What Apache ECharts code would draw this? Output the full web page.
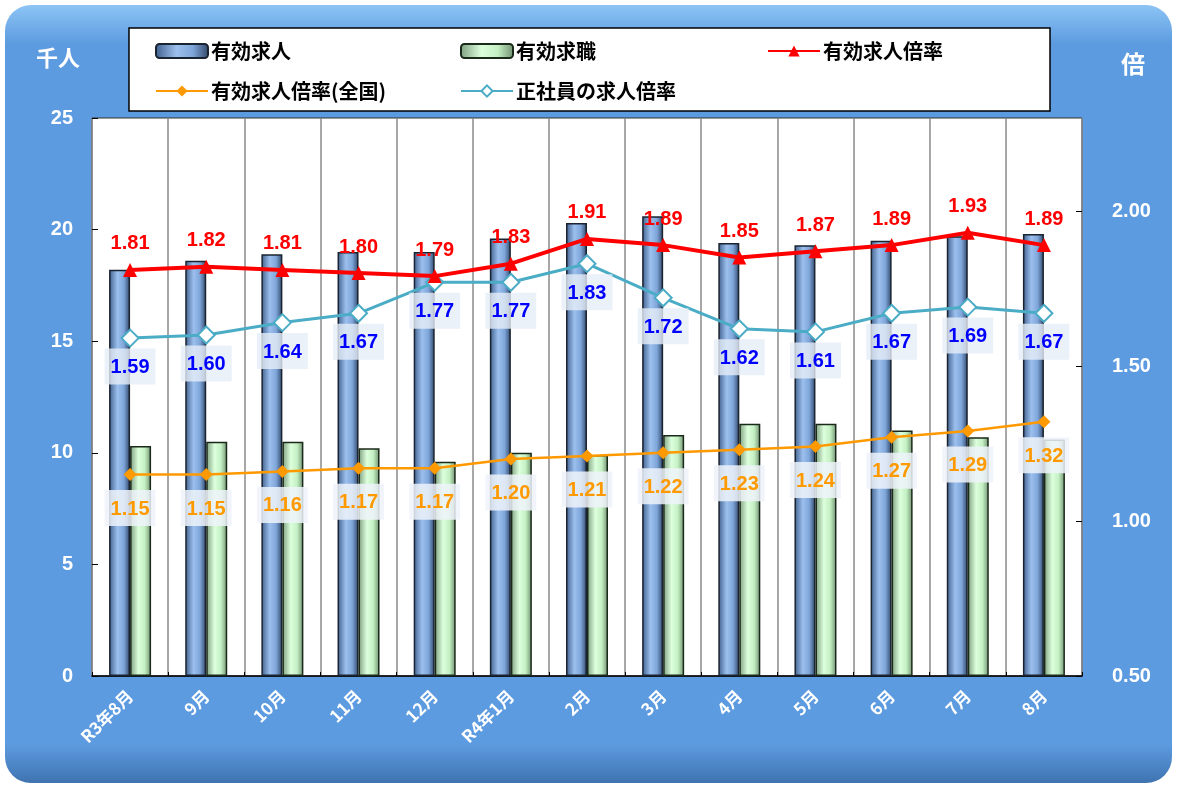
<!DOCTYPE html>
<html>
<head>
<meta charset="utf-8">
<script src="https://cdn.jsdelivr.net/npm/echarts@6/dist/echarts.min.js"></script>
<style>
  html, body { margin: 0; padding: 0; background: #fff; }
  #main { width: 1178px; height: 787px; }
</style>
</head>
<body>
<div id="main"></div>
<script>
// 月
var months = ['R3年8月', '9月', '10月', '11月', '12月', 'R4年1月', '2月', '3月', '4月', '5月', '6月', '7月', '8月'];
// 有効求人（千人）
var kyujin = [18.2, 18.6, 18.9, 19.0, 19.0, 19.6, 20.3, 20.6, 19.4, 19.3, 19.5, 19.7, 19.8];
// 有効求職（千人）
var kyushoku = [10.3, 10.5, 10.5, 10.2, 9.6, 10.0, 9.9, 10.8, 11.3, 11.3, 11.0, 10.7, 10.6];
// 有効求人倍率
var bairitsu = [1.81, 1.82, 1.81, 1.80, 1.79, 1.83, 1.91, 1.89, 1.85, 1.87, 1.89, 1.93, 1.89];
// 有効求人倍率（全国）
var zenkoku = [1.15, 1.15, 1.16, 1.17, 1.17, 1.20, 1.21, 1.22, 1.23, 1.24, 1.27, 1.29, 1.32];
// 正社員の求人倍率
var seishain = [1.59, 1.60, 1.64, 1.67, 1.77, 1.77, 1.83, 1.72, 1.62, 1.61, 1.67, 1.69, 1.67];

var FONT = "'Liberation Sans', 'Noto Sans CJK JP', sans-serif";
var JFONT = "'Noto Sans CJK JP', sans-serif";

var chartDom = document.getElementById('main');
var myChart = echarts.init(chartDom);

var blueGrad = new echarts.graphic.LinearGradient(0, 0, 1, 0, [
  {offset: 0, color: '#3f5f8c'},
  {offset: 0.4, color: '#9cc0ee'},
  {offset: 0.7, color: '#7fa6da'},
  {offset: 1, color: '#2f4668'}
]);
var greenGrad = new echarts.graphic.LinearGradient(0, 0, 1, 0, [
  {offset: 0, color: '#7f9f7f'},
  {offset: 0.4, color: '#dcffdc'},
  {offset: 0.7, color: '#c4f0c4'},
  {offset: 1, color: '#6f8f6f'}
]);

function legendAt(name, left, top) {
  return {
    data: [name],
    left: left,
    top: top,
    itemWidth: 52,
    itemHeight: 14,
    itemGap: 4,
    selectedMode: false,
    textStyle: {fontSize: 20, fontWeight: 'bold', color: '#000', fontFamily: JFONT, padding: [0, 0, 0, -2]}
  };
}

function fmt(p) { return p.value.toFixed(2); }

var option = {
  backgroundColor: '#fff',
  animation: false,
  graphic: [
    {
      type: 'rect',
      z: -5,
      shape: {x: 5, y: 5, width: 1167, height: 778, r: 26},
      style: {
        fill: new echarts.graphic.LinearGradient(0, 0, 0, 1, [
          {offset: 0, color: '#8cc4f4'},
          {offset: 0.05, color: '#5d9be0'},
          {offset: 0.95, color: '#5d9be0'},
          {offset: 1, color: '#3f73b0'}
        ])
      }
    },
    {
      type: 'rect',
      z: 1,
      shape: {x: 129, y: 28, width: 921, height: 83},
      style: {fill: '#fff', stroke: '#000', lineWidth: 1.5}
    },
    {
      type: 'text', z: 5, left: 36, top: 47,
      style: {text: '千人', fill: '#fff', font: 'bold 22px ' + JFONT}
    },
    {
      type: 'text', z: 5, left: 1121, top: 52,
      style: {text: '倍', fill: '#fff', font: 'bold 24px ' + JFONT}
    }
  ],
  legend: [
    legendAt('有効求人', 150, 36),
    legendAt('有効求職', 455, 36),
    legendAt('有効求人倍率', 762, 36),
    legendAt('有効求人倍率(全国)', 150, 76),
    legendAt('正社員の求人倍率', 455, 76)
  ],
  grid: {
    left: 92, right: 96, top: 118, bottom: 111,
    show: true, backgroundColor: '#fff', borderColor: '#333', borderWidth: 1
  },
  xAxis: {
    type: 'category',
    data: months,
    axisLine: {lineStyle: {color: '#000', width: 1.5}},
    axisTick: {show: true, inside: true, length: 4, lineStyle: {color: '#000'}},
    splitLine: {show: true, lineStyle: {color: '#8a8a8a', width: 1.5}},
    axisLabel: {rotate: 45, color: '#fff', fontSize: 17, fontWeight: 'bold', margin: 17, fontFamily: JFONT}
  },
  yAxis: [
    {
      type: 'value', min: 0, max: 25, interval: 5,
      axisLine: {show: false},
      axisTick: {show: true, inside: true, length: 6, lineStyle: {color: '#000'}},
      splitLine: {show: false},
      axisLabel: {color: '#fff', fontSize: 20, fontWeight: 'bold', margin: 19, fontFamily: FONT}
    },
    {
      type: 'value', min: 0.5, max: 2.3, interval: 0.5,
      position: 'right',
      axisLine: {show: false},
      axisTick: {show: true, inside: true, length: 6, lineStyle: {color: '#000'}},
      splitLine: {show: false},
      axisLabel: {
        color: '#fff', fontSize: 20, fontWeight: 'bold', margin: 30, fontFamily: FONT,
        showMaxLabel: false,
        formatter: function (v) { return v.toFixed(2); }
      }
    }
  ],
  series: [
    {
      name: '有効求人', type: 'bar', data: kyujin,
      barWidth: 21, barGap: '0%', z: 2,
      itemStyle: {color: blueGrad, borderColor: '#1a2330', borderWidth: 1.5}
    },
    {
      name: '有効求職', type: 'bar', data: kyushoku,
      barWidth: 21, z: 2,
      itemStyle: {color: greenGrad, borderColor: '#1a2a1a', borderWidth: 1.5}
    },
    {
      name: '有効求人倍率(全国)', type: 'line', yAxisIndex: 1, data: zenkoku, z: 3,
      symbol: 'diamond', symbolSize: 13,
      lineStyle: {color: '#ff9900', width: 2.5},
      itemStyle: {color: '#ff9900'},
      label: {
        show: true, position: 'bottom', distance: 9,
        color: '#ff9900', fontSize: 20, fontWeight: 'bold', fontFamily: FONT,
        backgroundColor: 'rgba(238,243,250,0.85)', padding: [9, 6, 7, 6],
        formatter: fmt
      }
    },
    {
      name: '正社員の求人倍率', type: 'line', yAxisIndex: 1, data: seishain, z: 4,
      symbol: 'diamond', symbolSize: 17,
      lineStyle: {color: '#4bacc6', width: 3},
      itemStyle: {color: '#fff', borderColor: '#4bacc6', borderWidth: 2},
      label: {
        show: true, position: 'bottom', distance: 1,
        color: '#0000ff', fontSize: 20, fontWeight: 'bold', fontFamily: FONT,
        backgroundColor: 'rgba(230,237,247,0.8)', padding: [9, 6, 7, 6],
        formatter: fmt
      }
    },
    {
      name: '有効求人倍率', type: 'line', yAxisIndex: 1, data: bairitsu, z: 5,
      symbol: 'triangle', symbolSize: 14,
      lineStyle: {color: '#ff0000', width: 4},
      itemStyle: {color: '#ff0000'},
      label: {
        show: true, position: 'top', distance: 9,
        color: '#ff0000', fontSize: 20, fontWeight: 'bold', fontFamily: FONT,
        formatter: fmt
      }
    }
  ]
};

option && myChart.setOption(option);
</script>
</body>
</html>
